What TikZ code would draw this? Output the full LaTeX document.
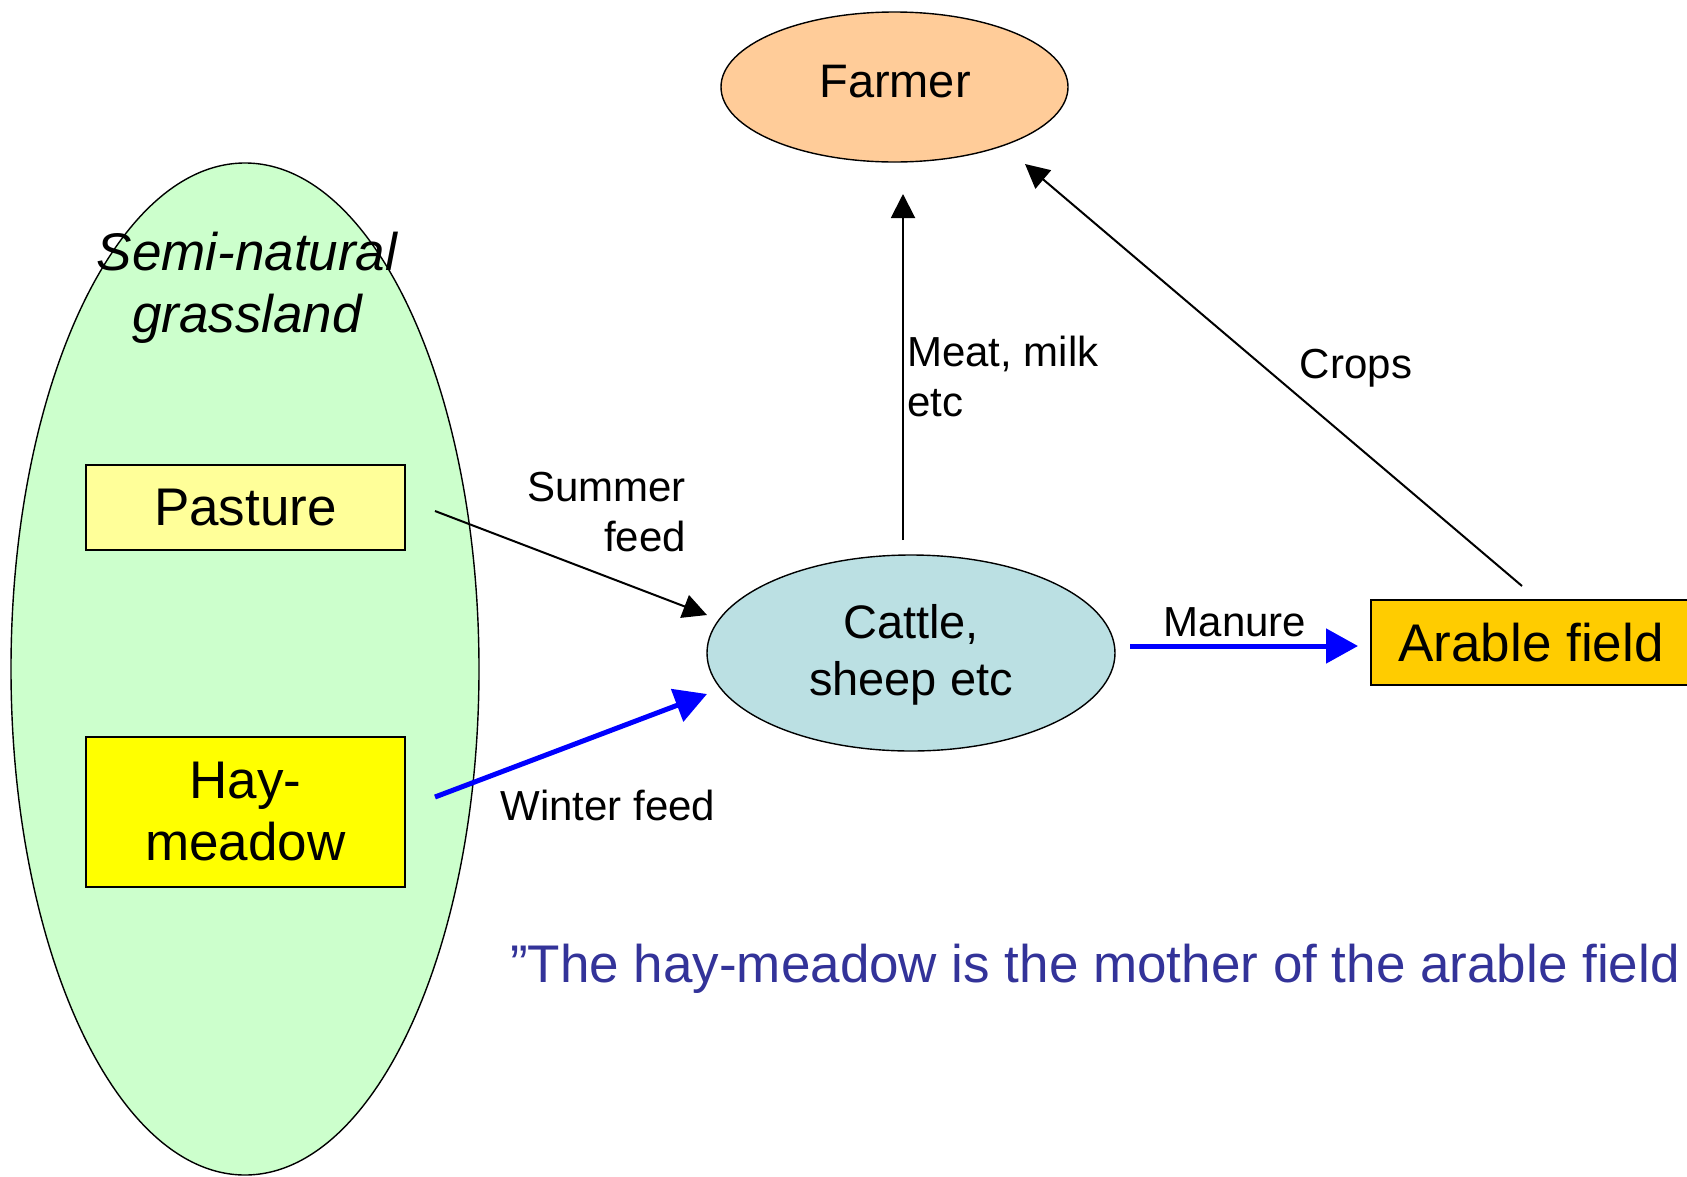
\documentclass[tikz,border=0pt]{standalone}
\usepackage{fontspec}
\setmainfont{Liberation Sans}
\usetikzlibrary{shapes.geometric,arrows.meta}

\definecolor{grassfill}{HTML}{CCFFCC}
\definecolor{pasturefill}{HTML}{FFFF99}
\definecolor{hayfill}{HTML}{FFFF00}
\definecolor{farmerfill}{HTML}{FFCC99}
\definecolor{cattlefill}{HTML}{BBE0E3}
\definecolor{arablefill}{HTML}{FFCC00}
\definecolor{quoteblue}{HTML}{333399}
\definecolor{flowblue}{HTML}{0000FF}

\tikzset{
  big/.style={font=\fontsize{53}{62}\selectfont},
  mid/.style={font=\fontsize{47}{57}\selectfont},
  small/.style={font=\fontsize{42}{50}\selectfont},
  fieldbox/.style={draw, line width=1.6pt, rectangle, inner sep=0pt, align=center, big},
  oval/.style={draw, line width=1.4pt, ellipse, inner sep=0pt, align=center, mid},
  lbl/.style={inner sep=0pt, small},
  thinflow/.style={line width=2pt, -{Triangle[length=24pt,width=24pt]}},
  thickflow/.style={line width=5pt, flowblue, -{Triangle[length=32pt,width=34pt]}}
}

\begin{document}
\begin{tikzpicture}[x=1pt, y=-1pt]
  \fill[white] (0,0) rectangle (1687,1176);
  \clip (0,0) rectangle (1687,1176);

  % grassland area with its two field types
  \node[draw, line width=1.4pt, ellipse, fill=grassfill, minimum width=468pt, minimum height=1012pt, inner sep=0pt] (grass) at (245,669) {};
  \node[big, align=center, inner sep=0pt] (grasstitle) at (247,288) {\itshape Semi-natural\\\itshape grassland};
  \node[fieldbox, fill=pasturefill, minimum width=319pt, minimum height=85pt] (pasture) at (245.5,507.5) {Pasture};
  \node[fieldbox, fill=hayfill, minimum width=319pt, minimum height=150pt] (hay) at (245.5,812) {Hay-\\meadow};

  % farm actors
  \node[oval, fill=farmerfill, minimum width=347pt, minimum height=150pt] (farmer) at (894.5,87) {};
  \node[mid, inner sep=0pt] (farmertext) at (895,82) {Farmer};
  \node[oval, fill=cattlefill, minimum width=408pt, minimum height=196pt] (cattle) at (911,653) {};
  \node[mid, align=center, inner sep=0pt] (cattletext) at (911,655) {Cattle,\\sheep etc};
  \node[fieldbox, fill=arablefill, minimum width=320pt, minimum height=85pt] (arable) at (1531,642.5) {Arable field};

  % arrow end points
  \coordinate (pastureout) at (435,511);
  \coordinate (cattlesummer) at (707,615);
  \coordinate (hayout) at (435,797);
  \coordinate (cattlewinter) at (707,694);
  \coordinate (cattletop) at (903,540);
  \coordinate (farmerbottom) at (903,194);
  \coordinate (arabletop) at (1522,586);
  \coordinate (farmerright) at (1025,164);
  \coordinate (cattleright) at (1130,646);
  \coordinate (arableleft) at (1358,646);

  % flows
  \draw[thinflow] (pastureout) -- (cattlesummer);
  \draw[thickflow] (hayout) -- (cattlewinter);
  \draw[thinflow] (cattletop) -- (farmerbottom);
  \draw[thinflow] (arabletop) -- (farmerright);
  \draw[thickflow] (cattleright) -- (arableleft);

  % flow labels
  \node[lbl, align=right, anchor=east] (summerlbl) at (686,512) {Summer\\feed};
  \node[lbl] (winterlbl) at (608,805) {Winter feed};
  \node[lbl, align=left, anchor=west] (meatlbl) at (907,376) {Meat, milk\\etc};
  \node[lbl] (cropslbl) at (1356,368) {Crops};
  \node[lbl] (manurelbl) at (1235,622) {Manure};

  % saying
  \node[big, text=quoteblue, inner sep=0pt, anchor=base west] (saying) at (510,982) {”The hay-meadow is the mother of the arable field};
\end{tikzpicture}
\end{document}
